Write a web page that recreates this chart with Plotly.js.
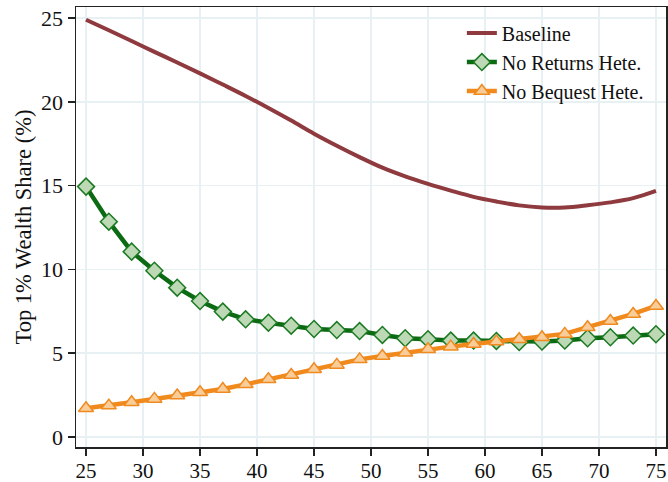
<!DOCTYPE html>
<html>
<head>
<meta charset="utf-8">
<script src="https://cdn.plot.ly/plotly-3.0.1.min.js"></script>
<style>html,body{margin:0;padding:0;background:#fff;}#chart{width:668px;height:482px;}</style>
</head>
<body>
<div id="chart"></div>
<script>
const ages = [25,27,29,31,33,35,37,39,41,43,45,47,49,51,53,55,57,59,61,63,65,67,69,71,73,75];
const baseline = [24.9,24.27,23.63,22.98,22.35,21.7,21.03,20.35,19.63,18.88,18.1,17.38,16.7,16.07,15.55,15.1,14.7,14.33,14.05,13.82,13.7,13.7,13.83,14.0,14.25,14.68];
const noReturns = [14.94,12.85,11.06,9.92,8.91,8.11,7.48,7.02,6.82,6.64,6.44,6.38,6.32,6.09,5.89,5.83,5.75,5.75,5.73,5.66,5.69,5.75,5.89,5.95,6.05,6.13];
const noBequest = [1.71,1.87,2.07,2.27,2.47,2.67,2.86,3.14,3.44,3.70,4.04,4.30,4.63,4.83,5.03,5.23,5.39,5.55,5.69,5.83,5.95,6.15,6.55,6.92,7.34,7.82];
const seriesNames = ["Baseline","No Returns Hete.","No Bequest Hete."];
const xTicks = [25,30,35,40,45,50,55,60,65,70,75];
const yTicks = [0,5,10,15,20,25];

const font = "Liberation Serif";
const traces = [
  {x: ages, y: baseline, name: seriesNames[0], mode: "lines", line: {color: "#8e3a3e", width: 4, shape: "spline"}},
  {x: ages, y: noReturns, name: seriesNames[1], mode: "lines+markers", line: {color: "#0b6a12", width: 4.5},
   marker: {symbol: "diamond", size: 13, color: "#bcd8b4", line: {color: "#1a7a22", width: 1.5}}},
  {x: ages, y: noBequest, name: seriesNames[2], mode: "lines+markers", line: {color: "#f08a1c", width: 4.5},
   marker: {symbol: "triangle-up", size: 13, color: "#f9cc98", line: {color: "#ef8a20", width: 1.5}}}
];
const grid = "#e7f0f3";
const layout = {
  width: 668, height: 482,
  margin: {l: 76, r: 2, t: 7, b: 35},
  paper_bgcolor: "#fff", plot_bgcolor: "#fff",
  font: {family: font, size: 21, color: "#111"},
  showlegend: true,
  legend: {x: 0.654, y: 0.985, xanchor: "left", yanchor: "top", bgcolor: "rgba(0,0,0,0)",
           font: {family: font, size: 20, color: "#111"}, tracegroupgap: 0},
  xaxis: {range: [24.12, 75.88], tickvals: xTicks, ticktext: xTicks.map(String),
          showgrid: true, gridcolor: grid, gridwidth: 1.5, zeroline: false,
          showline: true, linecolor: "#222", linewidth: 1.5, mirror: true,
          ticks: "outside", ticklen: 7, tickcolor: "#222", tickwidth: 1.5,
          ticklabelstandoff: -3,
          tickfont: {family: font, size: 21, color: "#111"}},
  yaxis: {range: [-0.6, 25.66], tickvals: yTicks, ticktext: yTicks.map(String),
          showgrid: true, gridcolor: grid, gridwidth: 1.5, zeroline: false,
          showline: true, linecolor: "#222", linewidth: 1.5, mirror: true,
          ticks: "outside", ticklen: 7, tickcolor: "#222", tickwidth: 1.5,
          tickfont: {family: font, size: 22, color: "#111"},
          title: {text: "Top 1% Wealth Share (%)", font: {family: font, size: 22.5, color: "#111"}, standoff: 3}}
};
Plotly.newPlot("chart", traces, layout, {displayModeBar: false, staticPlot: true});
</script>
</body>
</html>
